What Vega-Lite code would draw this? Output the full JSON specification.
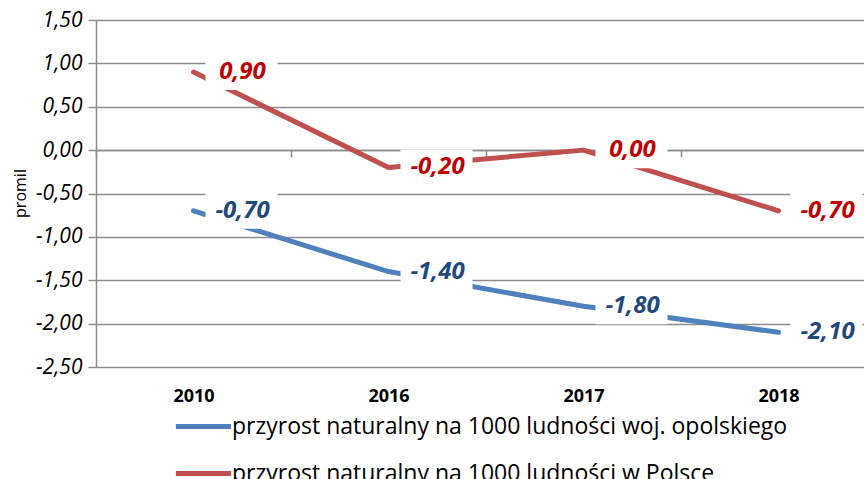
{
  "$schema": "https://vega.github.io/schema/vega-lite/v6.json",
  "width": 780,
  "height": 347,
  "autosize": {"type": "none"},
  "padding": {"left": 96, "top": 20, "right": 0, "bottom": 112},
  "background": "white",
  "config": {
    "locale": {"number": {"decimal": ",", "thousands": " ", "grouping": [3], "currency": ["", " zł"], "minus": "-"}},
    "view": {"stroke": null},
    "font": "Open Sans"
  },
  "data": {
    "values": [
      {"rok": "2010", "seria": "przyrost naturalny na 1000 ludności woj. opolskiego", "wartosc": -0.7},
      {"rok": "2016", "seria": "przyrost naturalny na 1000 ludności woj. opolskiego", "wartosc": -1.4},
      {"rok": "2017", "seria": "przyrost naturalny na 1000 ludności woj. opolskiego", "wartosc": -1.8},
      {"rok": "2018", "seria": "przyrost naturalny na 1000 ludności woj. opolskiego", "wartosc": -2.1},
      {"rok": "2010", "seria": "przyrost naturalny na 1000 ludności w Polsce", "wartosc": 0.9},
      {"rok": "2016", "seria": "przyrost naturalny na 1000 ludności w Polsce", "wartosc": -0.2},
      {"rok": "2017", "seria": "przyrost naturalny na 1000 ludności w Polsce", "wartosc": 0.0},
      {"rok": "2018", "seria": "przyrost naturalny na 1000 ludności w Polsce", "wartosc": -0.7}
    ]
  },
  "encoding": {
    "x": {
      "field": "rok",
      "type": "ordinal",
      "scale": {"type": "band", "paddingInner": 0, "paddingOuter": 0},
      "axis": {
        "title": null,
        "offset": -217,
        "tickBand": "extent",
        "domainColor": "#8c8c8c",
        "domainWidth": 1.5,
        "tickColor": "#8c8c8c",
        "tickWidth": 1.5,
        "tickSize": 7,
        "labelPadding": 230,
        "labelFont": "Open Sans",
        "labelFontWeight": "bold",
        "labelFontSize": 18,
        "labelColor": "#000000",
        "labelAngle": 0,
        "grid": false
      }
    },
    "y": {
      "field": "wartosc",
      "type": "quantitative",
      "scale": {"domain": [-2.5, 1.5], "nice": false, "zero": false},
      "axis": {
        "title": "promil",
        "values": [-2.5, -2, -1.5, -1, -0.5, 0, 0.5, 1, 1.5],
        "format": ".2f",
        "grid": true,
        "gridColor": "#8c8c8c",
        "gridWidth": 1.5,
        "domainColor": "#8c8c8c",
        "domainWidth": 1.5,
        "tickColor": "#8c8c8c",
        "tickWidth": 1.5,
        "tickSize": 8,
        "labelPadding": 6,
        "labelFont": "Open Sans",
        "labelFontStyle": "italic",
        "labelFontSize": 21,
        "labelColor": "#000000",
        "titleFont": "Open Sans",
        "titleFontSize": 16,
        "titleFontWeight": "normal",
        "titleColor": "#000000",
        "titleAngle": -90,
        "titleX": -76,
        "titleY": 173,
        "titleAlign": "center",
        "titleBaseline": "middle"
      }
    }
  },
  "layer": [
    {
      "mark": {"type": "line", "strokeWidth": 5, "strokeCap": "round", "strokeJoin": "round"},
      "encoding": {
        "color": {
          "field": "seria",
          "type": "nominal",
          "scale": {
            "domain": ["przyrost naturalny na 1000 ludności woj. opolskiego", "przyrost naturalny na 1000 ludności w Polsce"],
            "range": ["#4F81BD", "#C0504D"]
          },
          "legend": {
            "orient": "none",
            "legendX": 82,
            "legendY": 381,
            "title": null,
            "direction": "vertical",
            "symbolType": "M-1.2,0 L1.2,0",
            "symbolSize": 2116,
            "symbolStrokeWidth": 5,
            "labelFont": "Open Sans",
            "labelFontSize": 23,
            "labelColor": "#000000",
            "labelOffset": 3,
            "labelLimit": 800,
            "padding": 0,
            "rowPadding": 9
          }
        }
      }
    },
    {
      "mark": {
        "type": "point",
        "shape": "M-1,-0.5 L1,-0.5 L1,0.5 L-1,0.5 Z",
        "size": 5184,
        "filled": true,
        "color": "white",
        "opacity": 1,
        "strokeWidth": 0,
        "xOffset": 48
      },
      "encoding": {}
    },
    {
      "mark": {
        "type": "text",
        "font": "Open Sans",
        "fontSize": 24,
        "fontWeight": "bold",
        "fontStyle": "italic",
        "dx": 49,
        "align": "center",
        "baseline": "middle"
      },
      "encoding": {
        "text": {"field": "wartosc", "type": "quantitative", "format": ".2f"},
        "fill": {
          "field": "seria",
          "type": "nominal",
          "scale": {
            "domain": ["przyrost naturalny na 1000 ludności woj. opolskiego", "przyrost naturalny na 1000 ludności w Polsce"],
            "range": ["#1F497D", "#C00000"]
          },
          "legend": null
        }
      }
    }
  ]
}
